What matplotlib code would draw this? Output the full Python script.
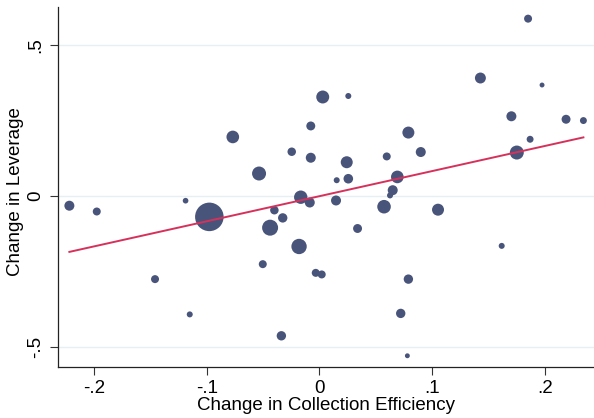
import numpy as np
import matplotlib
matplotlib.use("Agg")
import matplotlib.pyplot as plt

plt.rcParams["font.family"] = ["Liberation Sans", "DejaVu Sans"]

# change in collection efficiency (x), change in leverage (y), observation weight
d_collection = np.array([
    -0.2218, -0.1975, -0.1458, -0.1187, -0.1150, -0.0976, -0.0768, -0.0535,
    -0.0502, -0.0437, -0.0399, -0.0337, -0.0325, -0.0245, -0.0180, -0.0165,
    -0.0085, -0.0076, -0.0076, -0.0032, 0.0021, 0.0030, 0.0148, 0.0154,
    0.0243, 0.0257, 0.0257, 0.0339, 0.0574, 0.0598, 0.0627, 0.0651,
    0.0692, 0.0722, 0.0781, 0.0790, 0.0790, 0.0900, 0.1053, 0.1429,
    0.1618, 0.1704, 0.1752, 0.1852, 0.1870, 0.1976, 0.2189, 0.2343,
])
d_leverage = np.array([
    -0.0315, -0.0507, -0.2748, -0.0149, -0.3917, -0.0685, 0.1964, 0.0752,
    -0.2252, -0.1043, -0.0464, -0.4626, -0.0719, 0.1474, -0.1666, -0.0033,
    -0.0209, 0.2328, 0.1275, -0.2540, -0.2593, 0.3288, -0.0142, 0.0530,
    0.1126, 0.0579, 0.3321, -0.1070, -0.0348, 0.1318, 0.0026, 0.0199,
    0.0639, -0.3884, -0.5288, 0.2109, -0.2748, 0.1464, -0.0447, 0.3917,
    -0.1646, 0.2649, 0.1447, 0.5884, 0.1887, 0.3685, 0.2550, 0.2507,
])
weight = np.array([
    25, 16, 16, 8, 9, 204, 40, 49,
    16, 64, 18, 22, 22, 18, 59, 45,
    25, 20, 25, 16, 16, 42, 25, 9,
    36, 23, 9, 20, 46, 16, 9, 25,
    40, 22, 6, 36, 22, 25, 36, 30,
    9, 25, 49, 16, 12, 6, 20, 12,
])

# weighted linear fit
fit_slope = 0.832
fit_intercept = 0.0

xticks = [-0.2, -0.1, 0, 0.1, 0.2]
xticklabels = ["-.2", "-.1", "0", ".1", ".2"]
yticks = [-0.5, 0, 0.5]
yticklabels = ["-.5", "0", ".5"]

fig = plt.figure(figsize=(5.94, 4.18), dpi=100)
ax = fig.add_axes([0.0982, 0.1213, 0.9018, 0.8612])

ax.scatter(d_collection, d_leverage, s=weight * 2.07, color="#49547A",
           edgecolors="none", zorder=3)

xfit = np.array([d_collection.min(), d_collection.max()])
ax.plot(xfit, fit_intercept + fit_slope * xfit, color="#D6315B",
        linewidth=1.4, zorder=4)

ax.set_xlim(-0.2316, 0.2437)
ax.set_ylim(-0.567, 0.626)

ax.set_xticks(xticks)
ax.set_xticklabels(xticklabels, fontsize=13.5)
ax.set_yticks(yticks)
ax.set_yticklabels(yticklabels, fontsize=13.5, rotation=90, va="center")
ax.tick_params(axis="both", length=6, width=0.8, color="#333333")
ax.tick_params(axis="x", pad=3)
ax.tick_params(axis="y", pad=4)

ax.grid(True, axis="y", color="#E6EFF1", linewidth=1.0, zorder=0)
ax.set_axisbelow(True)

for side in ["top", "right"]:
    ax.spines[side].set_visible(False)
for side in ["left", "bottom"]:
    ax.spines[side].set_color("#222222")
    ax.spines[side].set_linewidth(0.9)

ax.set_xlabel("Change in Collection Efficiency", fontsize=13.5, labelpad=0)
ax.set_ylabel("Change in Leverage", fontsize=13.5)
ax.yaxis.set_label_coords(-0.064, 0.488)

fig.savefig("out.png", dpi=100)
